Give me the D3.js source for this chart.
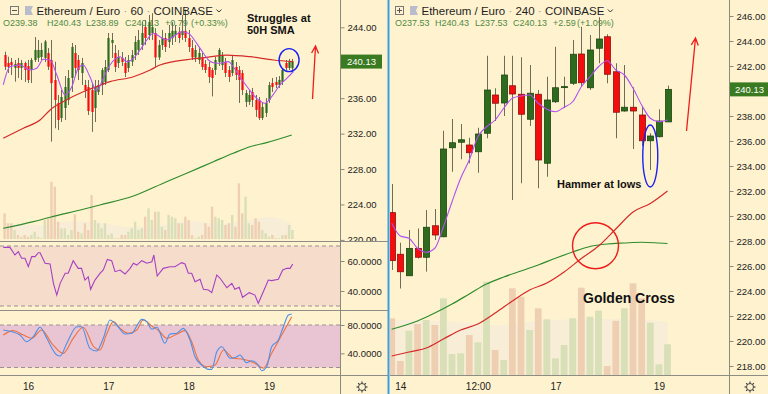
<!DOCTYPE html>
<html>
<head>
<meta charset="utf-8">
<script src="https://cdn.jsdelivr.net/npm/d3@7/dist/d3.min.js"></script>
<style>
  body { margin: 0; background: #fff3cf; }
  svg { display: block; }
</style>
</head>
<body>
<svg width="768" height="394"></svg>
<script>
// ---------- ETH/EUR 60 min (left) ----------
// hour offsets are counted from the 16th 00:00
const h1FirstHour = -7;
// [open, high, low, close]
const h1Candles = [
  [240.87,241.25,239.18,239.55],[239.97,240.68,238.84,239.52],[240.08,240.54,238.62,239.74],[239.41,240.31,237.86,239.86],
  [239.97,240.54,238.28,239.41],[239.41,240.31,238.05,239.97],[239.97,240.12,237.83,239.18],[239.63,240.31,237.71,238.05],
  [239.18,240.54,237.71,240.31],[240.31,242.90,240.08,241.44],[240.54,242.57,240.08,241.44],[240.65,242.23,240.31,241.44],
  [240.54,242.57,240.08,242.40],[241.10,241.66,239.18,239.55],[240.31,242.57,231.09,237.70],[238.05,240.12,232.60,235.79],
  [235.46,236.36,232.41,233.54],[233.76,236.92,233.31,236.13],[234.89,238.50,233.54,237.26],[235.79,239.18,235.23,238.28],
  [238.28,242.23,236.70,241.78],[241.10,242.00,238.50,239.41],[240.31,240.87,238.05,239.18],[238.84,240.54,237.49,239.97],
  [237.49,238.05,236.02,236.92],[237.26,238.05,234.10,234.55],[236.92,237.71,232.20,234.44],[234.89,238.05,233.31,237.26],
  [236.70,238.05,236.36,237.49],[237.49,239.41,236.36,239.18],[237.83,240.31,237.49,239.52],[239.18,243.36,238.95,242.79],
  [242.23,243.36,240.54,242.57],[241.10,242.00,238.95,239.52],[239.97,241.44,239.41,240.65],[240.54,241.21,239.63,240.08],
  [239.97,240.65,238.39,238.84],[239.41,240.87,238.95,240.31],[240.12,241.44,239.63,240.87],[240.87,243.02,240.31,242.34],
  [241.44,243.70,240.87,242.57],[242.00,244.60,241.44,243.36],[244.03,244.82,242.00,242.79],[243.13,245.39,242.57,244.60],
  [243.36,245.60,242.57,244.03],[243.36,243.90,239.55,240.60],[240.60,242.57,240.31,242.00],[242.00,243.70,241.44,242.79],
  [242.79,243.36,241.21,241.78],[242.34,244.26,241.66,243.36],[242.79,244.60,242.00,243.60],[243.13,244.26,242.34,243.60],
  [243.50,244.03,242.23,242.79],[243.13,245.39,242.57,243.60],[243.60,246.00,242.34,242.79],[242.79,243.70,241.21,241.78],
  [241.66,242.57,240.31,240.60],[240.60,242.00,240.08,241.44],[240.31,241.66,239.86,241.10],[240.54,241.10,239.18,239.52],
  [239.86,240.31,238.84,239.18],[239.52,240.08,237.71,238.39],[239.18,239.41,236.20,238.28],[239.18,240.65,238.62,240.31],
  [240.08,241.66,239.63,241.44],[239.74,241.21,239.18,240.87],[240.12,240.54,238.39,238.84],[239.18,239.63,237.83,238.39],
  [238.84,240.87,238.50,240.31],[239.52,240.08,238.05,238.62],[239.18,239.63,235.46,238.05],[238.84,239.18,236.36,236.92],
  [235.57,236.92,235.00,236.58],[235.57,236.92,235.23,236.36],[236.70,237.15,235.00,235.79],[235.79,236.36,233.88,234.67],
  [235.79,236.13,233.54,233.76],[233.76,235.46,233.54,235.00],[234.33,236.02,233.88,235.46],[235.79,237.83,235.46,237.49],
  [237.71,238.28,236.70,237.26],[237.83,238.39,237.15,237.49],[237.49,238.50,237.15,238.05],[237.83,239.41,237.49,239.18],
  [239.97,240.31,239.18,239.41],[239.41,240.43,239.18,240.12],[239.38,240.43,238.89,240.13]
];
const h1Volume = [25.7,15.7,15.7,9,4,2.3,4,2.3,4,7.3,2.3,0.7,19,20.7,57.3,52.3,17.3,10.7,10.7,4,
  9,24.7,7.3,5.7,15.7,9,44,19,15.7,10.7,15.7,4,5.7,0.7,0.7,4,4,7.3,10.7,17.3,
  9,10.7,22.3,30.7,19,27.3,27.3,12.3,9,24,22.3,20.7,15.7,15.7,22.3,19,4,0.7,2.3,4,
  15.7,12.3,32.3,22.3,20.7,19,14,15.7,24,12.3,55.7,25.7,42.3,15.7,14,20.7,17.3,9,5.7,2.3,
  4,0.7,0.7,4,4,14,9];
const h1VolumeMa = [[-7,16],[5,14],[12,18],[20,17],[30,12],[40,14],[48,18],[58,15],[66,19],[72,22],[79,15]];
const h1Sma9 = [[-7.4,237.49],[-5.4,239.55],[-2.4,239.74],[0.6,239.18],[2.6,239.37],[4.6,240.39],[6.6,240.31],
  [8.6,238.62],[11.1,236.36],[13.1,237.3],[15,239.37],[16.5,239.74],[18.5,238.42],[20.5,236.84],[22.5,238.24],
  [24.5,239.74],[27.5,240.68],[29.5,240.12],[31.5,240.5],[33.5,241.44],[35.5,242.57],[37.4,243.32],[39.4,242.94],
  [41.4,242.57],[43.4,242.94],[45.9,243.5],[47.9,243.32],[50.4,242.19],[52.4,241.07],[53.9,240.31],[55.4,240.0],
  [57.4,239.94],[59.9,240.12],[61.3,239.55],[63.3,238.42],[65.8,237.12],[68.3,235.99],[70.8,235.42],[72.8,236.17],
  [75.3,237.49],[77.3,238.24],[79.3,238.99]];
const h1Sma50 = [[-7.4,231.47],[-1.4,232.6],[3.6,233.54],[6.6,234.67],[10.5,235.6],[16.5,236.73],[20.5,237.3],
  [24.5,237.86],[31.5,238.42],[36.5,239.18],[39.4,239.74],[48.4,240.39],[53.4,240.61],[59.4,240.87],[66.3,240.68],
  [73.3,240.31],[79.3,240.12]];
const h1Sma200 = [[-7.4,221.31],[1.6,222.06],[6.6,222.56],[16.5,223.46],[21.5,223.94],[31.5,224.96],[41.4,226.57],
  [47.4,227.52],[55.4,228.83],[61.3,229.78],[66.3,230.52],[71.3,230.98],[78.8,231.84]];
const h1Rsi = [[-7.4,69.1],[-5.4,69.1],[-3.9,64],[-2.9,66.2],[-1.9,61.8],[-0.9,61.8],[0.1,56.2],[1.1,62.9],[2.1,62.9],
  [3.1,65.5],[3.6,65.5],[5.1,58.5],[6.6,58],[7.6,45.1],[8.6,37.3],[9.6,45.1],[11.1,51.8],[12,51.8],[13.5,60.2],
  [15,55.1],[16,55.1],[17,47.3],[18,49.5],[18.7,41.1],[20,47.3],[21.5,51.8],[22.5,54],[23.7,61.1],[25,60.2],
  [26,52.9],[27.5,54],[29,51.3],[30.5,55.1],[31.5,58.5],[32.5,57.3],[34,60.2],[35.5,58.5],[37,59.5],[37.6,64],
  [38.6,50],[40.4,55.1],[42.4,56.2],[43.9,56.2],[45.9,58.9],[46.9,58],[47.9,51.8],[48.9,51.8],[49.9,46.2],
  [51.4,47.8],[52.4,41.1],[53.9,40.7],[54.9,38.9],[56.4,50.7],[57.4,48.5],[59.4,42.2],[60.9,45.1],[61.8,41.1],
  [63.1,42.5],[64.1,35.8],[66.1,38.9],[67.8,37.3],[68.8,31.8],[70.3,39.5],[71.8,47.3],[72.8,46.9],[74.8,47.8],
  [76.1,54],[77.3,55.1],[78.3,55.1],[79.1,58]];
const h1StochK = [[-7.4,72.9],[-2.4,65.9],[-0.4,56.4],[1.6,63.5],[3.6,76.8],[5.6,61.2],[8.6,37.6],[9.6,36.2],
  [11.6,54.2],[14.6,77.6],[16,77.6],[18.5,47.1],[20.5,43.3],[22.5,61.2],[24.5,87.1],[26.5,80],[29,67.3],[31,68.3],
  [32.5,78.6],[34,88],[35.5,84.7],[37,73.9],[38.5,76.8],[40.9,54.2],[42.4,67.3],[44.4,68.3],[46.4,75.3],[48.4,58.8],
  [49.9,35.2],[51.9,23.5],[53.9,17.4],[54.9,17.4],[56.4,42.3],[57.9,49.4],[60.4,33],[62.4,35.2],[63.3,37.6],
  [65.3,26.8],[66.8,29.6],[68.8,23.5],[69.8,15.5],[71.3,21.1],[72.8,49.4],[74.8,58.8],[76.3,77.6],[77.8,94.1],[78.8,95.5]];
const h1StochD = [[-7.4,65.9],[-4.4,72],[-1.4,65.9],[1.1,61.2],[4.1,72.9],[7.1,54.2],[10.5,40],[13.5,61.2],
  [16.5,76.8],[19.5,50.3],[21.5,44.7],[23.5,67.3],[25.5,84.7],[27.5,75.3],[30,68.3],[32.5,72.9],[34.4,87.1],
  [37,78.6],[39.4,70.5],[41.4,61.2],[44.4,66.9],[46.9,72],[48.9,56.4],[50.9,30.6],[53.4,21.1],[55.9,23.5],
  [58.4,44.7],[61.3,33],[64.3,31.6],[67.8,25.9],[70.3,18.9],[72.8,40],[75.8,65.9],[78.8,91.7]];
const h1DayHours = [0, 24, 48, 72];
const h1DayLabels = ['16', '17', '18', '19'];
const h1PriceTicks = [244, 236, 232, 228, 224, 220];
const h1RsiTicks = [60, 40];
const h1StochTicks = [80, 40];
const h1Ohlc = ['O239.38', 'H240.43', 'L238.89', 'C240.13', '+0.79', '(+0.33%)'];

// ---------- ETH/EUR 240 min (right) ----------
const h4Candles = [
  [230.27,232.56,225.68,226.43],[226.94,227.86,224.20,225.54],[225.22,228.88,225.20,227.41],[227.41,229.00,226.60,226.70],
  [226.70,230.48,225.55,229.10],[229.22,230.56,228.08,228.48],[228.34,236.82,228.30,235.36],[235.46,237.76,233.54,235.86],
  [235.90,237.36,234.54,236.10],[235.68,236.26,234.22,235.06],[235.14,237.06,233.46,236.56],[236.62,242.82,236.22,240.08],
  [239.68,240.22,237.60,239.02],[239.04,242.82,238.00,241.28],[240.42,242.82,231.28,239.76],[239.74,242.70,232.62,238.14],
  [237.74,242.08,237.20,239.82],[239.74,240.08,232.22,234.48],[234.22,241.14,233.14,239.28],[239.14,243.54,239.04,240.26],
  [240.30,241.14,238.64,240.35],[240.62,244.08,240.48,242.94],[242.96,245.14,240.34,240.66],[240.26,244.48,240.08,243.28],
  [243.42,245.90,242.22,244.16],[244.34,244.54,240.62,241.34],[241.54,242.22,236.22,238.30],[238.40,242.08,238.34,238.70],
  [238.70,240.30,235.36,238.40],[238.08,238.72,235.60,236.02],[236.02,236.62,233.68,236.40],[236.34,238.54,236.30,237.60],
  [237.53,240.43,237.53,240.13]
];
const h4Volume = [56.7,14,44.3,51,55,50,76.7,21,21.7,40,32.7,93.3,25,15,86.7,78.3,45,66.7,55.7,16.7,
  30,56.7,87.3,58.3,64.3,9,54.3,66.7,91.7,76.7,52.3,10.7,30.7];
const h4VolumeMa = [[0,55],[6,54],[12,50],[18,55],[24,56],[28,56],[32,53]];
const h4Sma9 = [229.42,228.4,228.22,227.42,227.1,227.42,229.14,231.14,233.02,234.48,236.34,237.14,237.68,238.62,
  239.42,239.6,239.68,239.02,238.54,238.34,238.7,239.14,240.34,241.14,241.94,242.42,241.68,241.28,240.22,238.88,
  237.82,237.54,237.68];
const h4Sma50 = [[0,218.8],[2,219.12],[4,219.44],[6,220.16],[8,220.88],[10,221.36],[12,222.24],[14,223.2],
  [16,224.08],[18,224.64],[20,225.52],[22,226.6],[24,227.6],[26,228.96],[28,230.32],[30,231.0],[32,232.0]];
const h4Sma200 = [[0,220.94],[3,221.6],[5,222.24],[7,222.96],[9,223.76],[11,224.56],[13,225.12],[15,225.6],
  [17,226.08],[19,226.62],[21,227.12],[23,227.56],[25,227.76],[27,227.84],[29,227.9],[31,227.84],[32,227.8]];
const h4TimeIdx = [1, 10, 19, 31];
const h4TimeLabels = ['14', '12:00', '17', '19'];
const h4PriceTicks = [246, 244, 242, 238, 236, 234, 232, 230, 228, 226, 224, 222, 220, 218];
const h4Ohlc = ['O237.53', 'H240.43', 'L237.53', 'C240.13', '+2.59', '(+1.09%)'];

const lastPrice = 240.13;

// ---------- drawing ----------
const font = '"Liberation Sans", Arial, sans-serif';
const upFill = '#2f6b1e', upEdge = '#1c4510';
const downFill = '#f50d0d', downEdge = '#8a1010';
const wickColor = '#6f6d56';
const upVol = '#d9dfb6', downVol = '#efcfb1';
const axisColor = '#8b8a7c';

const svg = d3.select('svg');

svg.append('rect').attr('width', 768).attr('height', 394).attr('fill', '#fff3cf');

const defs = svg.append('defs');
defs.append('clipPath').attr('id', 'clipL')
  .append('rect').attr('x', 0).attr('y', 0).attr('width', 340).attr('height', 241);
defs.append('clipPath').attr('id', 'clipLAxis')
  .append('rect').attr('x', 340).attr('y', 0).attr('width', 48).attr('height', 241);
defs.append('clipPath').attr('id', 'clipR')
  .append('rect').attr('x', 390).attr('y', 0).attr('width', 339).attr('height', 375);

// scales
const xL = d3.scaleLinear().domain([0, 72]).range([28, 269]);
const yL = d3.scaleLinear().domain([220, 244]).range([239.9, 27.3]);
const yVolL = d3.scaleLinear().domain([0, 100]).range([239, 139]);
const yRsi = d3.scaleLinear().domain([30, 70]).range([306, 246]);
const yStoch = d3.scaleLinear().domain([20, 80]).range([367.5, 325]);

const xR = d3.scaleLinear().domain([0, 32]).range([391.7, 667.5]);
const yR = d3.scaleLinear().domain([218, 246]).range([366, 16]);
const yVolR = d3.scaleLinear().domain([0, 100]).range([375, 275]);

function isUp(d) { return d[3] >= d[0]; }

function drawVolume(g, vols, candles, xPos, yV, w) {
  g.selectAll('rect.vol').data(vols).enter().append('rect')
    .attr('x', (d, i) => xPos(i) - w / 2)
    .attr('y', d => yV(d))
    .attr('width', w)
    .attr('height', d => yV(0) - yV(d))
    .attr('fill', (d, i) => isUp(candles[i]) ? upVol : downVol);
}

function drawCandles(g, candles, xPos, y, bodyW, edged) {
  g.selectAll('line.wick').data(candles).enter().append('line')
    .attr('x1', (d, i) => Math.round(xPos(i)) + 0.5)
    .attr('x2', (d, i) => Math.round(xPos(i)) + 0.5)
    .attr('y1', d => y(d[1]))
    .attr('y2', d => y(d[2]))
    .attr('stroke', wickColor)
    .attr('stroke-width', 1);
  g.selectAll('rect.body').data(candles).enter().append('rect')
    .attr('x', (d, i) => Math.round(xPos(i)) + 0.5 - bodyW / 2)
    .attr('y', d => y(Math.max(d[0], d[3])))
    .attr('width', bodyW)
    .attr('height', d => Math.max(1, Math.abs(y(d[0]) - y(d[3]))))
    .attr('fill', d => isUp(d) ? upFill : downFill)
    .attr('stroke', d => edged ? (isUp(d) ? upEdge : downEdge) : 'none')
    .attr('stroke-width', 0.8);
}

function drawLine(g, pts, x, y, color, width, curve) {
  g.append('path')
    .datum(pts)
    .attr('d', d3.line().x(d => x(d[0])).y(d => y(d[1])).curve(curve || d3.curveMonotoneX))
    .attr('fill', 'none')
    .attr('stroke', color)
    .attr('stroke-width', width);
}

function drawArea(g, pts, x, yV, color) {
  g.append('path')
    .datum(pts)
    .attr('d', d3.area().x(d => x(d[0])).y0(yV(0)).y1(d => yV(d[1])).curve(d3.curveMonotoneX))
    .attr('fill', color);
}

function styleAxis(g, size) {
  g.select('.domain').remove();
  g.selectAll('line').attr('stroke', axisColor);
  g.selectAll('text').attr('font-family', font).attr('font-size', size).attr('fill', '#222');
}

function drawHeader(x0, icon, title, interval, ohlc, ohlcX) {
  const g = svg.append('g').attr('transform', `translate(${x0},0)`);
  g.append('rect').attr('x', 10.5).attr('y', 6.5).attr('width', 8).attr('height', 8)
    .attr('fill', 'none').attr('stroke', '#777');
  g.append('line').attr('x1', 12).attr('x2', 17).attr('y1', 10.5).attr('y2', 10.5).attr('stroke', '#555');
  if (icon === 'plus') {
    g.append('line').attr('x1', 14.5).attr('x2', 14.5).attr('y1', 8).attr('y2', 13).attr('stroke', '#555');
  }
  g.append('path').attr('d', 'M25,6 H33 L31,10.5 L33,15 H25 Z').attr('fill', '#b9bccb');
  const t = g.append('text').attr('x', 36.5).attr('y', 15)
    .attr('font-family', font).attr('font-size', 11.5).attr('fill', '#1e1e1e');
  t.append('tspan').text(title);
  t.append('tspan').attr('fill', '#999').text(' · ');
  t.append('tspan').text(interval);
  t.append('tspan').attr('fill', '#999').text(' · ');
  t.append('tspan').text('COINBASE');
  const tw = t.node().getComputedTextLength();
  g.append('path').attr('d', `M${40 + tw},9.5 l2.5,2.5 l2.5,-2.5`)
    .attr('fill', 'none').attr('stroke', '#333').attr('stroke-width', 1);
  g.selectAll('text.ohlc').data(ohlc).enter().append('text')
    .attr('x', (d, i) => ohlcX[i]).attr('y', 26)
    .attr('font-family', font).attr('font-size', 9).attr('fill', '#4e8a45')
    .text(d => d);
}

function drawGear(cx, cy) {
  const g = svg.append('g').attr('transform', `translate(${cx},${cy})`);
  g.selectAll('line').data(d3.range(8)).enter().append('line')
    .attr('x1', d => 3 * Math.cos(d * Math.PI / 4)).attr('y1', d => 3 * Math.sin(d * Math.PI / 4))
    .attr('x2', d => 5.5 * Math.cos(d * Math.PI / 4)).attr('y2', d => 5.5 * Math.sin(d * Math.PI / 4))
    .attr('stroke', '#444').attr('stroke-width', 1.2);
  g.append('circle').attr('r', 3.5).attr('fill', '#fff3cf').attr('stroke', '#444').attr('stroke-width', 1);
}

function drawArrow(x1, y1, x2, y2) {
  const a = Math.atan2(y2 - y1, x2 - x1);
  const hl = 8, spread = 0.45;
  svg.append('path')
    .attr('d', `M${x1},${y1} L${x2},${y2} M${x2 - hl * Math.cos(a - spread)},${y2 - hl * Math.sin(a - spread)} L${x2},${y2} L${x2 - hl * Math.cos(a + spread)},${y2 - hl * Math.sin(a + spread)}`)
    .attr('fill', 'none').attr('stroke', '#ee1c1c').attr('stroke-width', 1.3);
}

// ===== left panel =====
const h1X = i => xL(h1FirstHour + i);

// RSI and stochastic bands
svg.append('rect').attr('x', 0).attr('y', yRsi(70)).attr('width', 340).attr('height', yRsi(30) - yRsi(70)).attr('fill', '#f6dccb');
svg.append('rect').attr('x', 0).attr('y', yStoch(80)).attr('width', 340).attr('height', yStoch(20) - yStoch(80)).attr('fill', '#e9c5d4');
[yRsi(70), yRsi(30), yStoch(80), yStoch(20)].forEach(yy => {
  svg.append('line').attr('x1', 0).attr('x2', 340).attr('y1', yy).attr('y2', yy)
    .attr('stroke', '#9a9090').attr('stroke-dasharray', '4,3').attr('stroke-width', 1);
});

const mainL = svg.append('g').attr('clip-path', 'url(#clipL)');
drawArea(mainL, h1VolumeMa, xL, yVolL, '#f8eed8');
drawVolume(mainL, h1Volume, h1Candles, h1X, yVolL, 2.4);
drawLine(mainL, h1Sma200, xL, yL, '#2e8b2e', 1.2);
drawCandles(mainL, h1Candles, h1X, yL, 2.2, false);
drawLine(mainL, h1Sma50, xL, yL, '#d42a2a', 1.2);
drawLine(mainL, h1Sma9, xL, yL, '#b050f0', 1.1);

drawLine(svg, h1Rsi, xL, yRsi, '#a540c4', 1.1, d3.curveLinear);
drawLine(svg, h1StochD, xL, yStoch, '#f0703c', 1.1, d3.curveMonotoneX);
drawLine(svg, h1StochK, xL, yStoch, '#4d8fe6', 1.1, d3.curveMonotoneX);

// separators and axis lines
[241.5, 310.5, 375.5].forEach(yy => {
  svg.append('line').attr('x1', 0).attr('x2', 388).attr('y1', yy).attr('y2', yy).attr('stroke', '#8d8d86');
});
svg.append('line').attr('x1', 340.5).attr('x2', 340.5).attr('y1', 0).attr('y2', 394).attr('stroke', axisColor);

const axL = svg.append('g').attr('clip-path', 'url(#clipLAxis)').append('g')
  .attr('transform', 'translate(340.5,0)')
  .call(d3.axisRight(yL).tickValues(h1PriceTicks).tickSize(4).tickPadding(3).tickFormat(d3.format('.2f')));
styleAxis(axL, 9.5);
const axRsi = svg.append('g').attr('transform', 'translate(340.5,0)')
  .call(d3.axisRight(yRsi).tickValues(h1RsiTicks).tickSize(4).tickPadding(3).tickFormat(d3.format('.4f')));
styleAxis(axRsi, 9.5);
const axSt = svg.append('g').attr('transform', 'translate(340.5,0)')
  .call(d3.axisRight(yStoch).tickValues(h1StochTicks).tickSize(4).tickPadding(3).tickFormat(d3.format('.4f')));
styleAxis(axSt, 9.5);
const axTL = svg.append('g').attr('transform', 'translate(0,375)')
  .call(d3.axisBottom(xL).tickValues(h1DayHours).tickSize(0).tickPadding(8).tickFormat((d, i) => h1DayLabels[i]));
styleAxis(axTL, 10);

// last price tag
svg.append('rect').attr('x', 341).attr('y', yL(lastPrice) - 7).attr('width', 41).attr('height', 14).attr('fill', '#3a7a20');
svg.append('text').attr('x', 347).attr('y', yL(lastPrice) + 3.5).attr('font-family', font).attr('font-size', 9.5)
  .attr('fill', '#fff').text(d3.format('.2f')(lastPrice));

drawGear(362, 387);
drawHeader(0, 'minus', 'Ethereum / Euro', '60', h1Ohlc, [3, 47, 86, 125, 165, 191]);

// annotations left
svg.append('text').attr('x', 247).attr('y', 22).attr('font-family', font).attr('font-size', 11).attr('font-weight', 'bold')
  .attr('fill', '#111').text('Struggles at');
svg.append('text').attr('x', 247).attr('y', 34).attr('font-family', font).attr('font-size', 11).attr('font-weight', 'bold')
  .attr('fill', '#111').text('50H SMA');
svg.append('ellipse').attr('cx', xL(78)).attr('cy', yL(240.3)).attr('rx', 10).attr('ry', 11.5)
  .attr('fill', 'none').attr('stroke', '#1a22f0').attr('stroke-width', 1.4);
drawArrow(312.5, 99, 315.5, 46);

// divider between panels
svg.append('line').attr('x1', 388.5).attr('x2', 388.5).attr('y1', 0).attr('y2', 394).attr('stroke', '#3a9ee6').attr('stroke-width', 2);

// ===== right panel =====
const mainR = svg.append('g').attr('clip-path', 'url(#clipR)');
drawArea(mainR, h4VolumeMa, xR, yVolR, '#f8eed8');
drawVolume(mainR, h4Volume, h4Candles, xR, yVolR, 6.8);
drawLine(mainR, h4Sma200, xR, yR, '#2e8b2e', 1.2);
drawLine(mainR, h4Sma50, xR, yR, '#d42a2a', 1.2);
drawCandles(mainR, h4Candles, xR, yR, 6, true);
drawLine(mainR, h4Sma9.map((v, i) => [i, v]), xR, yR, '#b050f0', 1.1);

svg.append('line').attr('x1', 390).attr('x2', 768).attr('y1', 375.5).attr('y2', 375.5).attr('stroke', '#8d8d86');
svg.append('line').attr('x1', 729.5).attr('x2', 729.5).attr('y1', 0).attr('y2', 394).attr('stroke', axisColor);

const axR = svg.append('g').attr('transform', 'translate(729.5,0)')
  .call(d3.axisRight(yR).tickValues(h4PriceTicks).tickSize(4).tickPadding(3).tickFormat(d3.format('.2f')));
styleAxis(axR, 9.5);
const axTR = svg.append('g').attr('transform', 'translate(0,375)')
  .call(d3.axisBottom(xR).tickValues(h4TimeIdx).tickSize(0).tickPadding(8).tickFormat((d, i) => h4TimeLabels[i]));
styleAxis(axTR, 10);

svg.append('rect').attr('x', 730).attr('y', yR(lastPrice) - 7).attr('width', 38).attr('height', 14).attr('fill', '#3a7a20');
svg.append('text').attr('x', 735).attr('y', yR(lastPrice) + 3.5).attr('font-family', font).attr('font-size', 9.5)
  .attr('fill', '#fff').text(d3.format('.2f')(lastPrice));

drawGear(750, 387);
drawHeader(385, 'plus', 'Ethereum / Euro', '240', h4Ohlc, [395, 435, 475, 513, 553, 577].map(v => v - 385));

// annotations right
svg.append('ellipse').attr('cx', xR(30)).attr('cy', 156).attr('rx', 7.5).attr('ry', 31)
  .attr('fill', 'none').attr('stroke', '#1a22f0').attr('stroke-width', 1.4);
svg.append('text').attr('x', 557).attr('y', 188).attr('font-family', font).attr('font-size', 11).attr('font-weight', 'bold')
  .attr('fill', '#111').text('Hammer at lows');
svg.append('circle').attr('cx', 595.5).attr('cy', 245.8).attr('r', 23)
  .attr('fill', 'none').attr('stroke', '#ee1c1c').attr('stroke-width', 1.4);
svg.append('text').attr('x', 583).attr('y', 303).attr('font-family', font).attr('font-size', 14).attr('font-weight', 'bold')
  .attr('fill', '#111').text('Golden Cross');
drawArrow(686.5, 131, 695.5, 38);
</script>
</body>
</html>
